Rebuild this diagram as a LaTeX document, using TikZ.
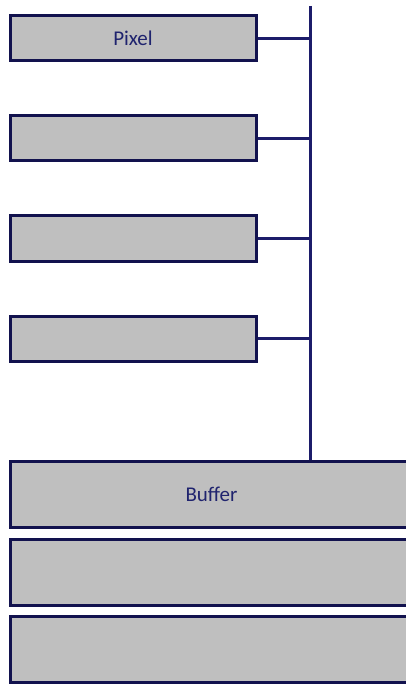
\documentclass[tikz,border=0pt]{standalone}
\usepackage{fontspec}
\setmainfont{Carlito}
\definecolor{boxline}{HTML}{12124E}
\definecolor{busline}{HTML}{1C1C6A}
\definecolor{txt}{HTML}{1F236E}
\definecolor{boxfill}{HTML}{BFBFBF}
\begin{document}
\begin{tikzpicture}[x=1pt,y=-1pt,
  pixbox/.style={draw=boxline,fill=boxfill,line width=3pt,minimum width=246pt,minimum height=45pt,inner sep=0pt,text=txt,font=\fontsize{21}{25}\selectfont},
  bufbox/.style={draw=boxline,fill=boxfill,line width=3pt,minimum width=402pt,minimum height=66pt,inner sep=0pt,text=txt,font=\fontsize{21}{25}\selectfont},
  bus/.style={draw=busline,line width=3pt}]
\useasboundingbox (0,0) rectangle (406,684);
\clip (0,0) rectangle (406,684);
\node[pixbox] (p1) at (133,38.5) {Pixel};
\node[pixbox] (p2) at (133,138.5) {};
\node[pixbox] (p3) at (133,238.5) {};
\node[pixbox] (p4) at (133,338.5) {};
\coordinate (top) at (310,6);
\node[bufbox] (b1) at (211.5,494) {Buffer};
\node[bufbox] (b2) at (211.5,572) {};
\node[bufbox] (b3) at (211.5,649.5) {};
\draw[bus] (top) -- (top |- b1.north);
\foreach \i in {1,...,4} \draw[bus] (p\i.east) -- (p\i.east -| top);
\end{tikzpicture}
\end{document}
